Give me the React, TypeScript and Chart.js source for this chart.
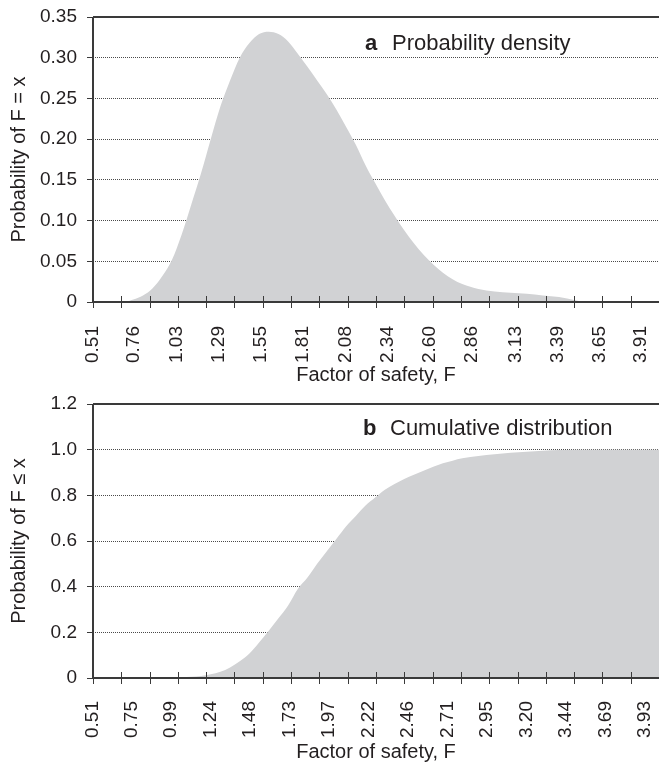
import React, { useEffect, useRef } from 'react';
import { Chart, registerables } from 'chart.js';

Chart.register(...registerables);

const FONT = '"Liberation Sans", Arial, Helvetica, sans-serif';
const INK = '#231f20';
const AXIS = '#3a3a3a';
const FILL = '#d1d2d4';

const X_MIN = 0.51;
const X_MAX = 4.02;

// Panel a: probability density
const densityX = [0.51, 0.70, 0.76, 0.82, 0.88, 0.94, 1.00, 1.06, 1.12, 1.18, 1.24, 1.30, 1.36, 1.42, 1.48, 1.54, 1.60, 1.66, 1.72, 1.78, 1.84, 1.90, 1.96, 2.02, 2.08, 2.14, 2.20, 2.26, 2.32, 2.38, 2.44, 2.50, 2.56, 2.62, 2.68, 2.74, 2.80, 2.90, 3.00, 3.10, 3.20, 3.30, 3.40, 3.50, 3.56, 4.02];
const densityY = [0, 0, 0.003, 0.008, 0.017, 0.032, 0.052, 0.083, 0.12, 0.158, 0.20, 0.24, 0.272, 0.30, 0.318, 0.329, 0.332, 0.329, 0.32, 0.305, 0.289, 0.272, 0.255, 0.236, 0.215, 0.193, 0.168, 0.146, 0.125, 0.106, 0.088, 0.072, 0.058, 0.046, 0.036, 0.028, 0.022, 0.016, 0.013, 0.0115, 0.010, 0.008, 0.006, 0.002, 0, 0];
const densityTickLabels = ['0.51', '0.76', '1.03', '1.29', '1.55', '1.81', '2.08', '2.34', '2.60', '2.86', '3.13', '3.39', '3.65', '3.91'];
const densityYTicks = [0, 0.05, 0.10, 0.15, 0.20, 0.25, 0.30, 0.35];
const densityYLabels = ['0', '0.05', '0.10', '0.15', '0.20', '0.25', '0.30', '0.35'];

// Panel b: cumulative distribution
const cumulativeX = [0.51, 1.00, 1.06, 1.12, 1.18, 1.24, 1.30, 1.36, 1.42, 1.48, 1.54, 1.60, 1.66, 1.72, 1.78, 1.84, 1.90, 1.96, 2.02, 2.08, 2.14, 2.20, 2.26, 2.32, 2.38, 2.44, 2.50, 2.56, 2.62, 2.68, 2.74, 2.80, 2.90, 3.00, 3.10, 3.20, 3.30, 3.40, 3.50, 4.02];
const cumulativeY = [0, 0, 0.002, 0.005, 0.009, 0.016, 0.027, 0.046, 0.073, 0.107, 0.155, 0.207, 0.262, 0.318, 0.39, 0.44, 0.50, 0.555, 0.61, 0.665, 0.71, 0.755, 0.79, 0.825, 0.85, 0.872, 0.89, 0.908, 0.925, 0.94, 0.952, 0.962, 0.972, 0.98, 0.986, 0.991, 0.995, 0.998, 1.0, 1.0];
const cumulativeTickLabels = ['0.51', '0.75', '0.99', '1.24', '1.48', '1.73', '1.97', '2.22', '2.46', '2.71', '2.95', '3.20', '3.44', '3.69', '3.93'];
const cumulativeYTicks = [0, 0.2, 0.4, 0.6, 0.8, 1.0, 1.2];
const cumulativeYLabels = ['0', '0.2', '0.4', '0.6', '0.8', '1.0', '1.2'];

type PanelProps = {
  xs: number[];
  ys: number[];
  xLabels: string[];
  yTicks: number[];
  yLabels: string[];
  yMax: number;
  yTitle: string;
  letter: string;
  heading: string;
  height: number;
  padTop: number;
  plotBottom: number;
  xTitlePad: number;
  xLabelPad: number;
  headX: number;
  headY: number;
};

function Panel(p: PanelProps) {
  const ref = useRef<HTMLCanvasElement | null>(null);
  useEffect(() => {
    if (!ref.current) return;
    const frame = {
      id: 'frame' + p.letter,
      afterDatasetsDraw(chart: any) {
        const { ctx, chartArea, scales } = chart;
        const { left, right, top, bottom } = chartArea;
        const x = scales.x;
        ctx.save();
        ctx.strokeStyle = AXIS;
        ctx.lineWidth = 2;
        ctx.beginPath();
        ctx.moveTo(left, top);
        ctx.lineTo(right, top);
        ctx.moveTo(left, top);
        ctx.lineTo(left, bottom);
        ctx.moveTo(left - 1, bottom);
        ctx.lineTo(right, bottom);
        ctx.stroke();
        ctx.lineWidth = 1;
        ctx.beginPath();
        for (let k = 0; k < 20; k++) {
          const px = Math.round(x.getPixelForValue(X_MIN + (k * (X_MAX - X_MIN)) / 20)) + 0.5;
          ctx.moveTo(px, bottom - 6);
          ctx.lineTo(px, bottom + 6);
        }
        ctx.stroke();
        ctx.fillStyle = INK;
        ctx.textBaseline = 'alphabetic';
        ctx.textAlign = 'left';
        ctx.font = `bold 22px ${FONT}`;
        ctx.fillText(p.letter, p.headX, p.headY);
        ctx.font = `22px ${FONT}`;
        ctx.fillText(p.heading, p.headX + 27, p.headY);
        ctx.restore();
      },
    };
    const chart = new Chart(ref.current, {
      type: 'line',
      data: {
        datasets: [
          {
            data: p.xs.map((x, i) => ({ x, y: p.ys[i] })),
            fill: 'origin',
            backgroundColor: FILL,
            borderColor: 'rgba(0,0,0,0)',
            borderWidth: 0,
            pointRadius: 0,
            cubicInterpolationMode: 'monotone',
          },
        ],
      },
      options: {
        animation: false,
        responsive: false,
        events: [],
        layout: { padding: { top: p.padTop, left: 0, right: 0, bottom: 0 } },
        plugins: { legend: { display: false }, tooltip: { enabled: false }, title: { display: false } },
        scales: {
          x: {
            type: 'linear',
            min: X_MIN,
            max: X_MAX,
            grid: { display: false },
            border: { display: false },
            afterFit: (s: any) => {
              s.height = p.height - p.plotBottom;
              s.paddingLeft = 0;
              s.paddingRight = 0;
            },
            afterBuildTicks: (s: any) => {
              s.ticks = p.xLabels.map((l) => ({ value: parseFloat(l) }));
            },
            ticks: {
              autoSkip: false,
              minRotation: 90,
              maxRotation: 90,
              padding: p.xLabelPad,
              color: INK,
              font: { family: FONT, size: 19 },
              callback: (_v: any, i: number) => p.xLabels[i],
            },
            title: {
              display: true,
              text: 'Factor of safety, F',
              color: INK,
              font: { family: FONT, size: 20 },
              padding: { top: 0, bottom: p.xTitlePad },
            },
          },
          y: {
            type: 'linear',
            min: 0,
            max: p.yMax,
            afterFit: (s: any) => {
              s.width = 93;
              s.paddingTop = 0;
              s.paddingBottom = 0;
            },
            afterBuildTicks: (s: any) => {
              s.ticks = p.yTicks.map((v) => ({ value: v }));
            },
            grid: {
              color: '#4a4a4a',
              lineWidth: 1,
              drawTicks: true,
              tickLength: 6,
              tickColor: AXIS,
              tickWidth: 1,
            },
            border: { display: false, dash: [1, 1] },
            ticks: {
              padding: 10,
              color: INK,
              font: { family: FONT, size: 19 },
              callback: (_v: any, i: number) => p.yLabels[i],
            },
            title: {
              display: true,
              text: p.yTitle,
              color: INK,
              font: { family: FONT, size: 20 },
              padding: { top: 7, bottom: 0 },
            },
          },
        },
      } as any,
      plugins: [frame],
    });
    return () => chart.destroy();
  }, []);
  return <canvas ref={ref} width={659} height={p.height} style={{ display: 'block', width: 659, height: p.height }} />;
}

export default function App() {
  return (
    <div style={{ position: 'absolute', left: 0, top: 0, width: 659, height: 765, background: '#fff' }}>
      <Panel
        xs={densityX}
        ys={densityY}
        xLabels={densityTickLabels}
        yTicks={densityYTicks}
        yLabels={densityYLabels}
        yMax={0.35}
        yTitle="Probability of F = x"
        letter="a"
        heading="Probability density"
        height={392}
        padTop={17}
        plotBottom={302}
        xTitlePad={5}
        xLabelPad={16}
        headX={365}
        headY={50}
      />
      <Panel
        xs={cumulativeX}
        ys={cumulativeY}
        xLabels={cumulativeTickLabels}
        yTicks={cumulativeYTicks}
        yLabels={cumulativeYLabels}
        yMax={1.2}
        yTitle="Probability of F ≤ x"
        letter="b"
        heading="Cumulative distribution"
        height={373}
        padTop={12}
        plotBottom={286}
        xTitlePad={1}
        xLabelPad={15}
        headX={363}
        headY={43}
      />
    </div>
  );
}
